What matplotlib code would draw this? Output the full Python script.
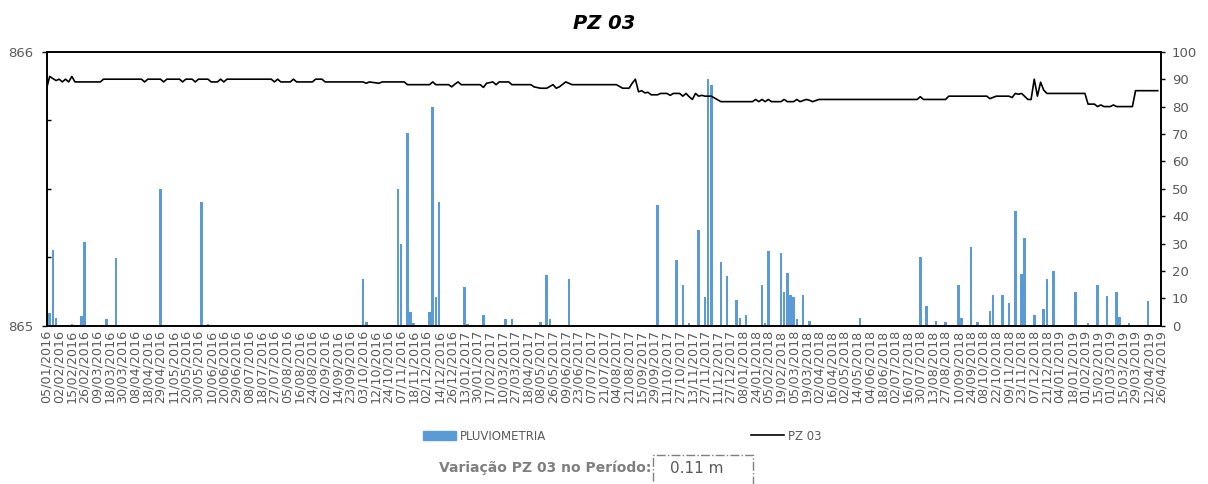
import matplotlib
matplotlib.use('Agg')
import matplotlib.pyplot as plt
from matplotlib.patches import Rectangle, Patch
from matplotlib.lines import Line2D
from matplotlib.ticker import MultipleLocator

# date label shown every 4 categories (Excel text axis)
DATE_LABELS = [
    '05/01/2016', '02/02/2016', '15/02/2016', '26/02/2016', '09/03/2016', '18/03/2016',
    '30/03/2016', '08/04/2016', '18/04/2016', '29/04/2016', '11/05/2016', '20/05/2016',
    '30/05/2016', '10/06/2016', '20/06/2016', '29/06/2016', '08/07/2016', '18/07/2016',
    '27/07/2016', '05/08/2016', '16/08/2016', '24/08/2016', '02/09/2016', '14/09/2016',
    '23/09/2016', '03/10/2016', '12/10/2016', '24/10/2016', '07/11/2016', '18/11/2016',
    '02/12/2016', '14/12/2016', '26/12/2016', '13/01/2017', '30/01/2017', '17/02/2017',
    '10/03/2017', '27/03/2017', '18/04/2017', '08/05/2017', '26/05/2017', '09/06/2017',
    '23/06/2017', '07/07/2017', '21/07/2017', '04/08/2017', '21/08/2017', '15/09/2017',
    '29/09/2017', '11/10/2017', '27/10/2017', '13/11/2017', '27/11/2017', '11/12/2017',
    '27/12/2017', '08/01/2018', '24/01/2018', '05/02/2018', '19/02/2018', '05/03/2018',
    '19/03/2018', '02/04/2018', '16/04/2018', '02/05/2018', '14/05/2018', '04/06/2018',
    '18/06/2018', '02/07/2018', '16/07/2018', '30/07/2018', '13/08/2018', '27/08/2018',
    '10/09/2018', '24/09/2018', '08/10/2018', '22/10/2018', '09/11/2018', '23/11/2018',
    '07/12/2018', '21/12/2018', '04/01/2019', '18/01/2019', '01/02/2019', '15/02/2019',
    '01/03/2019', '15/03/2019', '29/03/2019', '12/04/2019', '26/04/2019',
]
LABEL_STEP = 4

# rainfall (mm) by category index
RAIN_CAT = [1, 2, 3, 8, 11, 12, 19, 22, 36, 49, 51, 100, 101, 111, 112, 114, 115, 116,
            121, 122, 123, 124, 132, 133, 138, 145, 147, 156, 158, 159, 165, 193, 199,
            201, 203, 206, 208, 209, 210, 213, 215, 218, 219, 221, 226, 227, 228, 232,
            233, 234, 235, 236, 237, 239, 241, 257, 276, 278, 281, 284, 288, 289, 292,
            294, 298, 299, 302, 304, 306, 308, 309, 312, 315, 316, 318, 325, 329, 332,
            335, 338, 339, 342, 348]
RAIN_MM = [4.5, 27.5, 2.7, 0.5, 3.5, 30.5, 2.6, 24.8, 50, 45, 0.5, 17, 1.5, 50, 30, 70.5,
           5, 1, 5, 80, 10.5, 45, 14, 0.5, 4, 2.6, 2.6, 1.5, 18.6, 2.6, 17, 44, 24, 15, 1,
           35, 10.4, 90, 88, 23.4, 18, 9.4, 3, 4, 15, 1, 27.4, 26.4, 12.4, 19.1, 11.2, 10.4,
           2.5, 11.2, 1.8, 2.9, 25.2, 7.2, 1.8, 1.5, 14.7, 2.9, 28.8, 1.5, 5.5, 11.2, 11.2,
           8.2, 42, 19, 32, 3.9, 6.2, 16.9, 20, 12.4, 1, 14.7, 10.7, 12.4, 3.1, 1, 9.1]

# piezometer level (m): (category index, level)
LEVEL_POINTS = [
    (0, 865.865), (1, 865.91), (3, 865.895), (4, 865.90), (5, 865.89), (6, 865.90),
    (7, 865.89), (8, 865.91), (9, 865.89), (17, 865.89), (18, 865.90), (30, 865.90),
    (31, 865.89), (32, 865.90), (36, 865.90), (37, 865.89), (38, 865.90), (42, 865.90),
    (43, 865.89), (44, 865.90), (46, 865.90), (47, 865.89), (48, 865.90), (51, 865.90),
    (52, 865.89), (54, 865.89), (55, 865.90), (56, 865.89), (57, 865.90), (71, 865.90),
    (72, 865.89), (73, 865.90), (74, 865.89), (77, 865.89), (78, 865.90), (79, 865.89),
    (84, 865.89), (85, 865.90), (87, 865.90), (88, 865.89), (100, 865.89), (101, 865.885),
    (102, 865.89), (105, 865.885), (106, 865.89), (113, 865.89), (114, 865.88),
    (121, 865.88), (122, 865.89), (123, 865.88), (127, 865.88), (128, 865.872),
    (129, 865.882), (130, 865.89), (131, 865.88), (137, 865.88), (138, 865.87),
    (139, 865.885), (141, 865.89), (142, 865.88), (143, 865.89), (146, 865.89),
    (147, 865.88), (153, 865.88), (154, 865.872), (156, 865.867), (158, 865.867),
    (160, 865.88), (161, 865.867), (162, 865.872), (164, 865.89), (166, 865.88),
    (180, 865.88), (182, 865.867), (184, 865.867), (185, 865.885), (186, 865.90),
    (187, 865.854), (188, 865.858), (189, 865.85), (190, 865.852), (191, 865.843),
    (193, 865.843), (194, 865.848), (196, 865.848), (197, 865.841), (198, 865.848),
    (200, 865.848), (201, 865.838), (202, 865.848), (203, 865.836), (204, 865.826),
    (205, 865.848), (206, 865.838), (207, 865.841), (208, 865.838), (210, 865.838),
    (213, 865.818), (223, 865.818), (224, 865.826), (225, 865.818), (226, 865.826),
    (227, 865.818), (228, 865.826), (229, 865.818), (232, 865.818), (233, 865.826),
    (234, 865.818), (236, 865.818), (237, 865.826), (238, 865.818), (240, 865.826),
    (241, 865.823), (242, 865.818), (244, 865.826), (275, 865.826), (276, 865.836),
    (277, 865.826), (284, 865.826), (285, 865.838), (297, 865.838), (298, 865.829),
    (300, 865.838), (304, 865.838), (305, 865.833), (306, 865.848), (307, 865.845),
    (308, 865.848), (310, 865.826), (311, 865.826), (312, 865.90), (313, 865.838),
    (314, 865.889), (315, 865.86), (316, 865.848), (328, 865.848), (329, 865.809),
    (331, 865.809), (332, 865.80), (333, 865.806), (334, 865.80), (336, 865.80),
    (337, 865.806), (338, 865.80), (343, 865.80), (344, 865.858), (351, 865.858),
]
LEVEL_CAT = [c for c, _ in LEVEL_POINTS]
LEVEL_M = [v for _, v in LEVEL_POINTS]

GREY = '#595959'
BLUE = '#5B9BD5'
plt.rcParams['font.family'] = ['DejaVu Sans']

fig = plt.figure(figsize=(12.08, 4.84), dpi=100)
ax = fig.add_axes([0.0385, 0.327, 0.9225, 0.566])
ax2 = ax.twinx()

# level line on the left axis, rain bars on the right axis (drawn behind)
ax2.bar(RAIN_CAT, RAIN_MM, width=0.8, color=BLUE, zorder=1)
ax.plot(LEVEL_CAT, LEVEL_M, color='black', linewidth=1.2, zorder=3)
ax.set_zorder(ax2.get_zorder() + 1)
ax.patch.set_visible(False)

n_cat = (len(DATE_LABELS) - 1) * LABEL_STEP
ax.set_xlim(0, n_cat)
ax.set_ylim(865, 866)
ax2.set_ylim(0, 100)

ax.set_yticks([865, 866])
ax.set_yticklabels(['865', '866'])
ax.yaxis.set_minor_locator(MultipleLocator(0.25))
ax.tick_params(axis='y', which='major', direction='out', length=3.6, width=1,
               labelsize=9.5, labelcolor=GREY, pad=6)
ax.tick_params(axis='y', which='minor', direction='in', length=3, width=1)

ax2.set_yticks(range(0, 101, 10))
ax2.tick_params(axis='y', direction='out', length=3, width=1, labelsize=9.5,
                labelcolor=GREY, pad=5)

ax.set_xticks(range(0, n_cat + 1, LABEL_STEP))
ax.set_xticklabels(DATE_LABELS, rotation=90, fontsize=9.2, color=GREY)
ax.tick_params(axis='x', length=0, pad=3)

for a in (ax, ax2):
    for side in a.spines.values():
        side.set_linewidth(1.2)
        side.set_color('black')

fig.text(0.5, 0.952, 'PZ 03', ha='center', va='center', fontsize=14,
         fontweight='bold', fontstyle='italic', color='black')

handles = [Patch(color=BLUE), Line2D([0], [0], color='black', linewidth=1.2)]
fig.legend(handles, ['PLUVIOMETRIA', 'PZ 03'], loc='center', ncol=2,
           bbox_to_anchor=(0.515, 0.099), frameon=False, fontsize=8.5,
           handlelength=2.8, handleheight=0.7, handletextpad=0.3,
           columnspacing=17.4, labelcolor=GREY)

variation = max(LEVEL_M) - min(LEVEL_M)
fig.text(0.5395, 0.033, 'Variação PZ 03 no Período:', ha='right', va='center',
         fontsize=10, fontweight='bold', color='#7F7F7F')
fig.patches.append(Rectangle((0.5406, -0.01), 0.083, 0.07, transform=fig.transFigure,
                             fill=False, edgecolor='#7F7F7F', linewidth=1,
                             linestyle='-.'))
fig.text(0.555, 0.033, f'{variation:.2f} m', ha='left', va='center',
         fontsize=11, color=GREY)

fig.savefig('out.png', dpi=100)
plt.close(fig)
